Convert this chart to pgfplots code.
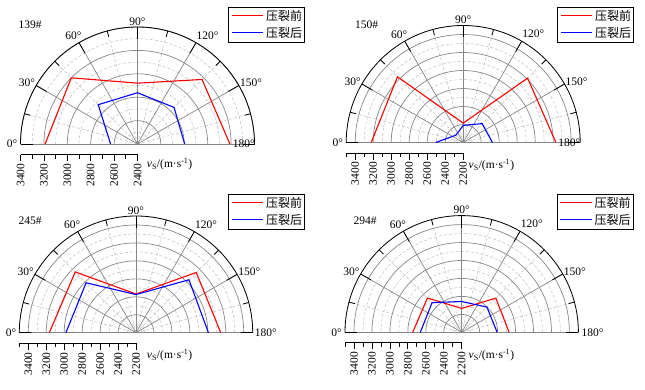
\documentclass[border=0pt]{standalone}
\usepackage{fontspec}
\setmainfont{Liberation Serif}
\newfontfamily\cjk{Noto Sans CJK SC}
\usepackage{pgfplots}
\usepackage{pgfplotstable}
\pgfplotsset{compat=1.18}

\definecolor{gridsolid}{RGB}{135,135,135}
\definecolor{griddash}{RGB}{190,190,190}

\pgfplotstableread{
a red blue
0 3190 2630
45 3200 2875
90 2920 2838
135 3180 2842
180 3190 2803
}\tabA
\pgfplotstableread{
a red blue
0 3222 2507
45 3233 2315
90 2415 2390
135 3212 2497
180 3230 2525
}\tabB
\pgfplotstableread{
a red blue
0 3166 2981
45 3157 2986
90 2631 2625
135 3149 3034
180 3144 3007
}\tabC
\pgfplotstableread{
a red blue
0 2746 2661
45 2740 2667
90 2466 2543
135 2738 2597
180 2728 2595
}\tabD

% #1 cx, #2 cy, #3 R, #4 vmin, #5 vmax
\newcommand{\polargrid}[5]{%
\begin{scope}[shift={(#1,#2)}]
 \pgfmathsetmacro{\gsc}{#3/(#5-#4)}
 \pgfmathtruncatemacro{\gN}{#5-#4}
 \foreach \a in {15,45,...,165} {\draw[griddash, line width=0.5pt, dash pattern=on 3pt off 2pt] (0,0) -- (\a:#3);}
 \foreach \r in {100,300,...,\gN} {\pgfmathsetmacro{\rr}{\r*\gsc}
   \draw[griddash, line width=0.5pt, dash pattern=on 3pt off 2pt] (\rr,0) arc[start angle=0,end angle=180,radius=\rr];}
 \foreach \r in {200,400,...,\gN} {\pgfmathsetmacro{\rr}{\r*\gsc}
   \draw[gridsolid, line width=0.7pt] (\rr,0) arc[start angle=0,end angle=180,radius=\rr];}
 \foreach \a in {30,60,...,150} {\draw[gridsolid, line width=0.7pt] (0,0) -- (\a:#3);}
 \draw[gridsolid, line width=0.7pt] (-#3,0) -- (#3,0);
 \draw[black, line width=0.8pt] (#3,0) arc[start angle=0,end angle=180,radius=#3];
 \pgfmathsetmacro{\Ra}{#3-12}
 \pgfmathsetmacro{\Rb}{#3-6}
 \foreach \a in {0,30,...,180} {\draw[black, line width=0.8pt] (\a:#3) -- (\a:\Ra);}
 \foreach \a in {15,45,...,165} {\draw[black, line width=0.8pt] (\a:#3) -- (\a:\Rb);}
 % scale bar
 \draw[black, line width=0.7pt] (-#3,-10.5) -- (0,-10.5);
 \foreach \r in {0,200,...,\gN} {\pgfmathsetmacro{\xx}{-\r*\gsc}\pgfmathtruncatemacro{\lab}{#4+\r}
   \draw[black, line width=0.7pt] (\xx,-10.5) -- (\xx,-17);
   \node[rotate=90, anchor=east, inner sep=0pt] at (\xx,-19.5) {\lab};}
 \foreach \r in {100,300,...,\gN} {\pgfmathsetmacro{\xx}{-\r*\gsc}
   \draw[black, line width=0.7pt] (\xx,-10.5) -- (\xx,-14.5);}
 % angle labels
 \node[anchor=east, inner sep=0pt] at (-#3-3,0) {0°};
 \node[anchor=east, inner sep=0pt] at ({-#3*0.866-1},{#3*0.5+2.5}) {30°};
 \node[anchor=south east, inner sep=0pt] at ({-#3*0.5+2.7},{#3*0.866+2.5}) {60°};
 \node[anchor=south, inner sep=0pt] at (0,{#3+1.5}) {90°};
 \node[anchor=south west, inner sep=0pt] at ({#3*0.5+0.5},{#3*0.866+3}) {120°};
 \node[anchor=west, inner sep=0pt] at ({#3*0.866+1},{#3*0.5+2.5}) {150°};
\end{scope}}

% legend box: #1 left x, #2 top y
\newcommand{\legendbox}[2]{%
\begin{scope}[shift={(#1,#2)}]
 \fill[white] (0,0) rectangle (76,-35);
 \draw[black, line width=0.7pt] (0,0) rectangle (76,-35);
 \fill[red] (3,-7.8) rectangle (34.5,-9.4);
 \fill[blue] (3,-24.8) rectangle (34.5,-26.4);
 \node[anchor=west, inner sep=0pt, font=\fontsize{12}{13}\selectfont\cjk] at (37.3,-8.7) {压裂前};
 \node[anchor=west, inner sep=0pt, font=\fontsize{12}{13}\selectfont\cjk] at (37.3,-25.7) {压裂后};
\end{scope}}

\pgfplotsset{panelaxis/.style={anchor=south west, hide axis, clip=false, scale only axis}}

\begin{document}
\fontsize{11.5}{13}\selectfont%
\begin{tikzpicture}[x=1pt,y=1pt]
\useasboundingbox (0,0) rectangle (645,389);
% panel 1
\polargrid{137.5}{245}{117}{2400}{3400}
\begin{axis}[panelaxis, width=234pt, height=117pt, at={(20.5pt,245pt)},
  xmin=-1000, xmax=1000, ymin=0, ymax=1000]
\addplot[red, line width=1.1pt] table[x expr={(\thisrow{red}-2400)*cos(180-\thisrow{a})}, y expr={(\thisrow{red}-2400)*sin(180-\thisrow{a})}] {\tabA};
\addplot[blue, line width=1.1pt] table[x expr={(\thisrow{blue}-2400)*cos(180-\thisrow{a})}, y expr={(\thisrow{blue}-2400)*sin(180-\thisrow{a})}] {\tabA};
\end{axis}
\legendbox{228.7}{382}
\node[anchor=east, inner sep=0pt] at (255,245) {180°};
\node[anchor=base west, inner sep=0pt] at (18.3,360.7) {139\#};
\node[anchor=west, inner sep=0pt] at (146.7,224.7) {\textit{v}\textsubscript{S}/(m·s\textsuperscript{-1})};
% panel 2
\polargrid{463.2}{246.5}{117}{2200}{3500}
\begin{axis}[panelaxis, width=234pt, height=117pt, at={(346.2pt,246.5pt)},
  xmin=-1300, xmax=1300, ymin=0, ymax=1300]
\addplot[red, line width=1.1pt] table[x expr={(\thisrow{red}-2200)*cos(180-\thisrow{a})}, y expr={(\thisrow{red}-2200)*sin(180-\thisrow{a})}] {\tabB};
\addplot[blue, line width=1.1pt] table[x expr={(\thisrow{blue}-2200)*cos(180-\thisrow{a})}, y expr={(\thisrow{blue}-2200)*sin(180-\thisrow{a})}] {\tabB};
\end{axis}
\legendbox{557.5}{382}
\node[anchor=east, inner sep=0pt] at (580.5,246.5) {180°};
\node[anchor=base west, inner sep=0pt] at (355,360.7) {150\#};
\node[anchor=west, inner sep=0pt] at (468.5,224) {\textit{v}\textsubscript{S}/(m·s\textsuperscript{-1})};
% panel 3
\polargrid{136}{56.3}{116.7}{2200}{3500}
\begin{axis}[panelaxis, width=233.4pt, height=116.7pt, at={(19.3pt,56.3pt)},
  xmin=-1300, xmax=1300, ymin=0, ymax=1300]
\addplot[red, line width=1.1pt] table[x expr={(\thisrow{red}-2200)*cos(180-\thisrow{a})}, y expr={(\thisrow{red}-2200)*sin(180-\thisrow{a})}] {\tabC};
\addplot[blue, line width=1.1pt] table[x expr={(\thisrow{blue}-2200)*cos(180-\thisrow{a})}, y expr={(\thisrow{blue}-2200)*sin(180-\thisrow{a})}] {\tabC};
\end{axis}
\legendbox{228.7}{195}
\node[anchor=west, inner sep=0pt] at (254.7,56.3) {180°};
\node[anchor=base west, inner sep=0pt] at (18.3,164.7) {245\#};
\node[anchor=west, inner sep=0pt] at (146.7,34) {\textit{v}\textsubscript{S}/(m·s\textsuperscript{-1})};
% panel 4
\polargrid{461.7}{56.7}{116.7}{2200}{3500}
\begin{axis}[panelaxis, width=233.4pt, height=116.7pt, at={(345pt,56.7pt)},
  xmin=-1300, xmax=1300, ymin=0, ymax=1300]
\addplot[red, line width=1.1pt] table[x expr={(\thisrow{red}-2200)*cos(180-\thisrow{a})}, y expr={(\thisrow{red}-2200)*sin(180-\thisrow{a})}] {\tabD};
\addplot[blue, line width=1.1pt] table[x expr={(\thisrow{blue}-2200)*cos(180-\thisrow{a})}, y expr={(\thisrow{blue}-2200)*sin(180-\thisrow{a})}] {\tabD};
\end{axis}
\legendbox{557}{195}
\node[anchor=west, inner sep=0pt] at (581.5,56.7) {180°};
\node[anchor=base west, inner sep=0pt] at (353.3,164.7) {294\#};
\node[anchor=west, inner sep=0pt] at (468.5,34) {\textit{v}\textsubscript{S}/(m·s\textsuperscript{-1})};
\end{tikzpicture}
\end{document}
